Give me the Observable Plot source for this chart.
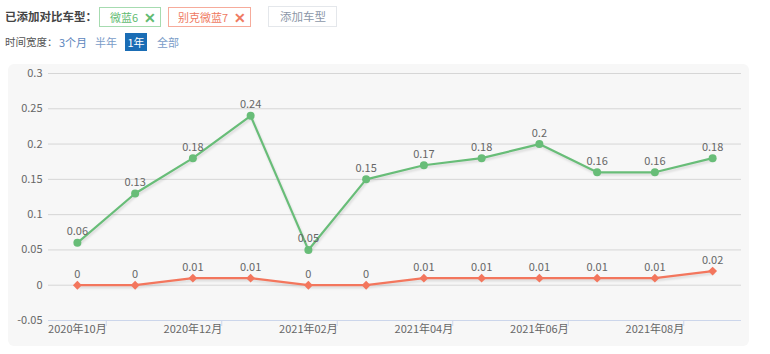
<!DOCTYPE html>
<html><head><meta charset="utf-8">
<script src="https://cdn.jsdelivr.net/npm/d3@7"></script>
<script src="https://cdn.jsdelivr.net/npm/@observablehq/plot@0.6"></script>
<style>
body{margin:0;background:#fff;font-family:"Noto Sans CJK SC","Noto Sans",sans-serif;width:770px;height:354px;position:relative;overflow:hidden}
.a{position:absolute;white-space:nowrap;line-height:1}
.tag{position:absolute;box-sizing:border-box;border:1px solid;font-size:11px;display:flex;align-items:center;white-space:nowrap;line-height:1;padding-left:9px}
.x{margin-left:6px;font-size:14px;font-weight:bold}
#panel{position:absolute;left:8px;top:64px;width:741px;height:282px;background:#f7f7f7;border-radius:6px}
.shadow path{filter:drop-shadow(1px 2px 1px rgba(0,0,0,0.12))}
</style></head>
<body>
<div class="a" style="left:5px;top:11px;font-size:11.5px;font-weight:bold;color:#444">已添加对比车型：</div>
<div class="tag" style="left:99px;top:7px;width:62px;height:20px;border-color:#a6dbb0;color:#62bb72;padding-left:10px">微蓝6<span class="x">✕</span></div>
<div class="tag" style="left:168px;top:7px;width:83px;height:20px;border-color:#f6ab9b;color:#ef7a62">别克微蓝7<span class="x">✕</span></div>
<div class="tag" style="left:268px;top:6px;width:69px;height:21px;border-color:#e4e7eb;color:#8c97a8;font-size:11.5px;padding-left:11px">添加车型</div>
<div class="a" style="left:5px;top:37px;font-size:10.5px;color:#555">时间宽度：</div>
<div class="a" style="left:59px;top:37px;font-size:11px;color:#5c86bd">3个月</div>
<div class="a" style="left:95px;top:37px;font-size:11px;color:#7a9cc8">半年</div>
<div class="a" style="left:125px;top:33px;width:22px;height:18px;background:#1a6db5;color:#fff;font-size:11px;display:flex;align-items:center;justify-content:center">1年</div>
<div class="a" style="left:157px;top:37px;font-size:11px;color:#7a9cc8">全部</div>
<div id="panel"></div>
<script>
const months = ["2020-10","2020-11","2020-12","2021-01","2021-02","2021-03","2021-04","2021-05","2021-06","2021-07","2021-08","2021-09"];
const labeledMonths = ["2020-10","2020-12","2021-02","2021-04","2021-06","2021-08"];
const weilan6 = [0.06,0.13,0.18,0.24,0.05,0.15,0.17,0.18,0.2,0.16,0.16,0.18];
const weilan7 = [0,0,0.01,0.01,0,0,0.01,0.01,0.01,0.01,0.01,0.02];
const yTicks = [-0.05,0,0.05,0.1,0.15,0.2,0.25,0.3];

const green = "#68bd78", red = "#f3765d";
const d6 = months.map((m,i)=>({m, v: weilan6[i]}));
const d7 = months.map((m,i)=>({m, v: weilan7[i]}));
const fmtMonth = m => m.slice(0,4) + "年" + m.slice(5) + "月";
const W = 741, ML = 40, MR = 8;
const half = (W - ML - MR) / months.length / 2;

const chart = Plot.plot({
  width: W, height: 282,
  marginLeft: ML, marginRight: MR, marginTop: 9, marginBottom: 26,
  style: {background: "transparent", fontFamily: "'Noto Sans CJK SC','Noto Sans',sans-serif", fontSize: "11px", color: "#666"},
  x: {type: "band", domain: months, padding: 0, round: false, axis: null},
  y: {domain: [-0.05, 0.3], axis: null},
  marks: [
    Plot.ruleY(yTicks.filter(d => d !== -0.05), {stroke: "#d6d6d6", strokeWidth: 1}),
    Plot.ruleY([-0.05], {stroke: "#ccd6eb", strokeWidth: 1}),
    Plot.ruleX(labeledMonths, {x: d => d, y1: -0.05, y2: -0.05, insetBottom: -6, dx: half, stroke: "#ccd6eb"}),
    Plot.text(yTicks, {x: () => months[0], y: d => d, text: d => String(d), textAnchor: "end", dx: -half - 6, fill: "#666", fontSize: 11}),
    Plot.text(labeledMonths, {x: d => d, y: -0.05, text: fmtMonth, dy: 5, lineAnchor: "top", fill: "#666", fontSize: 11}),
    Plot.line(d6, {x: "m", y: "v", stroke: green, strokeWidth: 2.2, className: "shadow"}),
    Plot.line(d7, {x: "m", y: "v", stroke: red, strokeWidth: 2.2, className: "shadow"}),
    Plot.dot(d6, {x: "m", y: "v", r: 4, fill: green, stroke: "none"}),
    Plot.dot(d7, {x: "m", y: "v", r: 4, symbol: "diamond2", fill: red, stroke: "none"}),
    Plot.text(d6, {x: "m", y: "v", text: d => String(d.v), dy: -11, fill: "#666", fontSize: 11}),
    Plot.text(d7, {x: "m", y: "v", text: d => String(d.v), dy: -11, fill: "#666", fontSize: 11})
  ]
});
document.getElementById("panel").appendChild(chart);
</script>
</body></html>
